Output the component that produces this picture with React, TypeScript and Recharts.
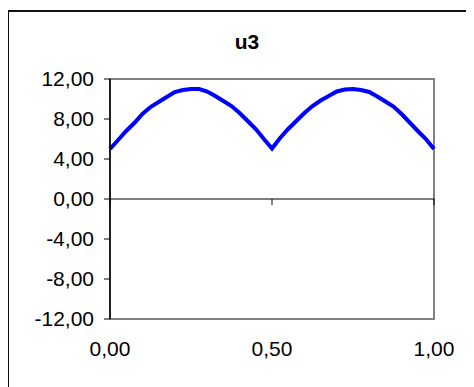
import { LineChart, Line, XAxis, YAxis, ReferenceLine, ReferenceArea } from "recharts";

const xValues = [
  0, 0.025, 0.05, 0.075, 0.1, 0.125, 0.15, 0.175, 0.2, 0.225, 0.25, 0.275, 0.3, 0.325, 0.35, 0.375, 0.4,
  0.425, 0.45, 0.475, 0.5, 0.525, 0.55, 0.575, 0.6, 0.625, 0.65, 0.675, 0.7, 0.725, 0.75, 0.775, 0.8,
  0.825, 0.85, 0.875, 0.9, 0.925, 0.95, 0.975, 1,
];

// u3
const u3Values = [
  5.0, 5.9, 6.8, 7.6, 8.5, 9.2, 9.7, 10.2, 10.7, 10.9, 11.0, 11.0, 10.75, 10.3, 9.8, 9.3, 8.6,
  7.8, 7.0, 6.0, 5.05, 6.1, 7.0, 7.8, 8.6, 9.3, 9.85, 10.3, 10.75, 10.95, 11.0, 10.9, 10.7,
  10.25, 9.75, 9.25, 8.5, 7.65, 6.8, 6.0, 5.0,
];

const xTicks = [0, 0.5, 1];
const yTicks = [-12, -8, -4, 0, 4, 8, 12];

const data = xValues.map((x, i) => ({ x, u3: u3Values[i] }));

const fmt = (v: number) => v.toFixed(2).replace(".", ",");
const font = "Liberation Sans, Arial, sans-serif";

const XTick = (p: any) => (
  <text x={p.x} y={p.y} dy="0.71em" textAnchor="middle" fontSize={21} fontFamily={font} fill="#000">
    {fmt(p.payload.value)}
  </text>
);

const YTick = (p: any) => (
  <text x={p.x} y={p.y} dy="0.355em" textAnchor="end" fontSize={21} fontFamily={font} fill="#000">
    {fmt(p.payload.value)}
  </text>
);

export default function App() {
  return (
    <div style={{ position: "relative", width: 466, height: 379, fontFamily: font }}>
      <div
        style={{
          position: "absolute",
          left: -1,
          top: 2,
          width: 467,
          height: 377,
          borderLeft: "2px solid #111",
          borderTop: "2px solid #111",
        }}
      />
      <div
        style={{
          position: "absolute",
          left: 189,
          top: 22.5,
          width: 100,
          textAlign: "center",
          fontWeight: "bold",
          fontSize: 21,
          lineHeight: "21px",
        }}
      >
        u3
      </div>
      <LineChart
        width={466}
        height={379}
        data={data}
        margin={{ top: 71, right: 40, bottom: 28, left: 0 }}
        style={{ position: "absolute", left: 0, top: 0 }}
      >
        <ReferenceArea
          x1={0}
          x2={1}
          y1={-12}
          y2={12}
          fill="none"
          stroke="#808080"
          strokeWidth={2}
          fillOpacity={0}
        />
        <XAxis
          dataKey="x"
          type="number"
          domain={[0, 1]}
          ticks={xTicks}
          axisLine={false}
          tickLine={false}
          tickSize={6}
          tickMargin={16}
          height={40}
          tick={XTick}
        />
        <YAxis
          type="number"
          domain={[-12, 12]}
          ticks={yTicks}
          width={102}
          axisLine={{ stroke: "#000", strokeWidth: 1.5 }}
          tickLine={{ stroke: "#000" }}
          tickSize={6}
          tickMargin={10}
          tick={YTick}
        />
        <ReferenceLine y={0} stroke="#000" strokeWidth={1.2} />
        {xTicks.map((t) => (
          <ReferenceLine
            key={t}
            segment={[
              { x: t, y: 0 },
              { x: t, y: -0.6 },
            ]}
            stroke="#000"
          />
        ))}
        <Line
          type="linear"
          dataKey="u3"
          stroke="#0000ff"
          strokeWidth={4}
          dot={false}
          isAnimationActive={false}
        />
      </LineChart>
    </div>
  );
}
